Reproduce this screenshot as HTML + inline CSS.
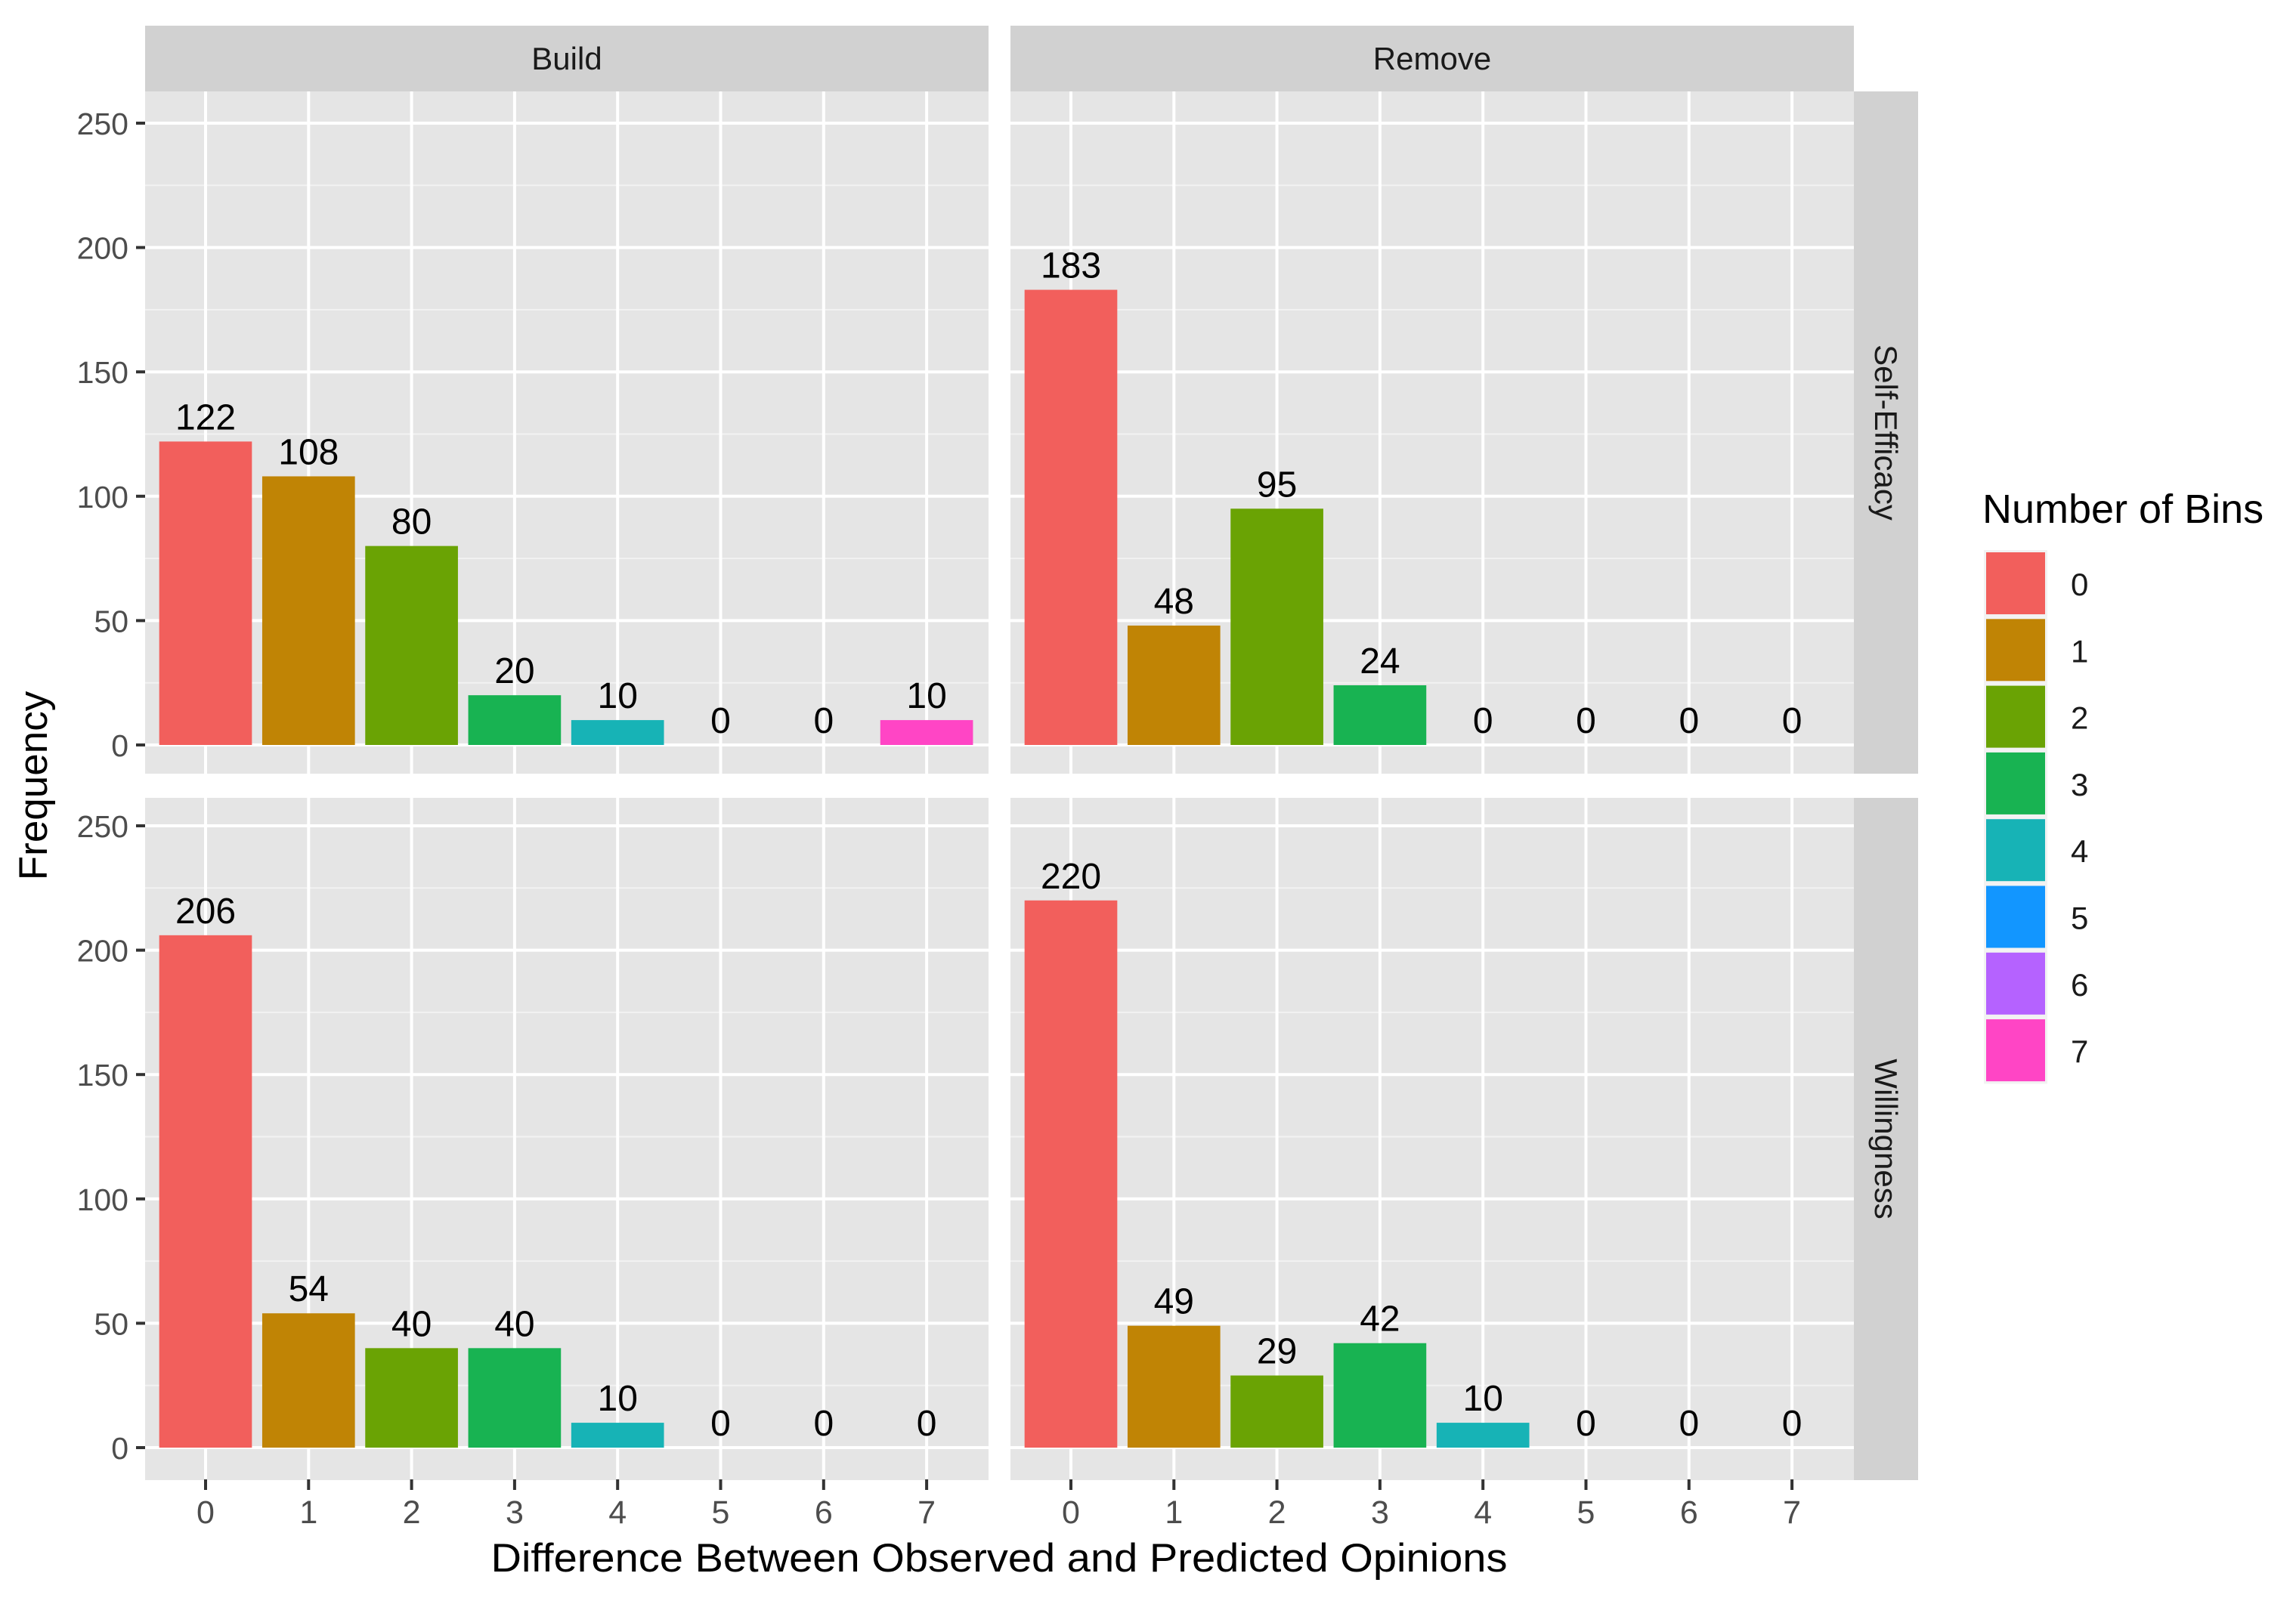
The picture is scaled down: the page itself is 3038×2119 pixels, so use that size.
<!DOCTYPE html>
<html><head><meta charset="utf-8"><style>
html,body{margin:0;padding:0;background:#fff;}
svg{display:block;font-family:"Liberation Sans",sans-serif;}
</style></head><body>
<svg id="chart" width="3038" height="2119" viewBox="0 0 3038 2119"></svg>
<script>
const categories = [0,1,2,3,4,5,6,7];
const colNames = ["Build","Remove"];
const rowNames = ["Self-Efficacy","Willingness"];
const buildSelfEfficacy = [122,108,80,20,10,0,0,10];
const removeSelfEfficacy = [183,48,95,24,0,0,0,0];
const buildWillingness = [206,54,40,40,10,0,0,0];
const removeWillingness = [220,49,29,42,10,0,0,0];
const yTicks = [0,50,100,150,200,250];
const legendLabels = ["0","1","2","3","4","5","6","7"];
const colors = ["#F25F5C","#C08405","#6AA304","#18B352","#17B3B6","#1296FF","#B562FF","#FF45C5"];

const NS="http://www.w3.org/2000/svg";
const svg=document.getElementById('chart');
function mk(tag,attrs,parent,text){const e=document.createElementNS(NS,tag);for(const k in attrs)e.setAttribute(k,attrs[k]);if(text!==undefined)e.textContent=text;(parent||svg).appendChild(e);return e;}

const panelX=[192,1337], panelW=1116;
const panelY=[121,1056], panelH=903;
const zeroY=[986,1916];
const pxPerUnit=3.292;
const xStep=136.3, xOff=80;
const data=[[buildSelfEfficacy,removeSelfEfficacy],[buildWillingness,removeWillingness]];
function xScale(c,i){return panelX[c]+xOff+i*xStep;}
function yScale(r,v){return zeroY[r]-v*pxPerUnit;}

for(let c=0;c<2;c++){
  const s=mk('rect',{x:panelX[c],y:34,width:panelW,height:87,fill:'#d1d1d1'});
  
  
  const t=mk('text',{x:panelX[c]+panelW/2,y:92,'text-anchor':'middle','font-size':42,fill:'#1a1a1a'},svg,colNames[c]);
  
  
}
for(let r=0;r<2;r++){
  const s=mk('rect',{x:2453,y:panelY[r],width:85,height:panelH,fill:'#d1d1d1'});
  
  
  const cy=panelY[r]+panelH/2;
  const t=mk('text',{x:2481,y:cy,'text-anchor':'middle','font-size':42,fill:'#1a1a1a',transform:`rotate(90 2481 ${cy})`},svg,rowNames[r]);
  
  
}

for(let r=0;r<2;r++){
  for(let c=0;c<2;c++){
    const g=mk('g',{});
    
    
    mk('rect',{x:panelX[c],y:panelY[r],width:panelW,height:panelH,fill:'#e5e5e5'},g);
    for(let k=0;k<yTicks.length;k++){
      const ym=yScale(r,yTicks[k]+25);
      if(ym>panelY[r]) mk('line',{x1:panelX[c],x2:panelX[c]+panelW,y1:ym,y2:ym,stroke:'#f2f2f2','stroke-width':2},g);
      const y=yScale(r,yTicks[k]);
      mk('line',{x1:panelX[c],x2:panelX[c]+panelW,y1:y,y2:y,stroke:'#fff','stroke-width':4},g);
    }
    for(let i=0;i<categories.length;i++){
      const x=xScale(c,i);
      mk('line',{x1:x,x2:x,y1:panelY[r],y2:panelY[r]+panelH,stroke:'#fff','stroke-width':4},g);
    }
    const vals=data[r][c];
    for(let i=0;i<categories.length;i++){
      const x=xScale(c,i), v=vals[i], w=xStep*0.9;
      if(v>0){
        const b=mk('rect',{x:x-w/2,y:yScale(r,v),width:w,height:v*pxPerUnit,fill:colors[i]},g);
        
        
      }
      const l=mk('text',{x:x,y:yScale(r,v)-16,'text-anchor':'middle','font-size':48,fill:'#000'},g,String(v));
      
      
    }
  }
  for(let k=0;k<yTicks.length;k++){
    const y=yScale(r,yTicks[k]);
    const tk=mk('line',{x1:180,x2:192,y1:y,y2:y,stroke:'#333','stroke-width':4});
    
    
    const tl=mk('text',{x:170,y:y+15,'text-anchor':'end','font-size':41,fill:'#4d4d4d'},svg,String(yTicks[k]));
    
    
  }
}
for(let c=0;c<2;c++){
  for(let i=0;i<categories.length;i++){
    const x=xScale(c,i);
    const tk=mk('line',{x1:x,x2:x,y1:1958,y2:1972,stroke:'#333','stroke-width':4});
    
    
    const tl=mk('text',{x:x,y:2016,'text-anchor':'middle','font-size':43,fill:'#4d4d4d'},svg,String(categories[i]));
    
    
  }
}
const xt=mk('text',{x:1322,y:2080,'text-anchor':'middle','font-size':53,fill:'#000',textLength:1345,lengthAdjust:'spacingAndGlyphs'},svg,'Difference Between Observed and Predicted Opinions');


const yt=mk('text',{x:62,y:1040,'text-anchor':'middle','font-size':53,fill:'#000',transform:'rotate(-90 62 1040)'},svg,'Frequency');



const lg=mk('g',{});


const lt=mk('text',{x:2623,y:692,'font-size':54,fill:'#000'},lg,'Number of Bins');


for(let i=0;i<legendLabels.length;i++){
  const y=728+i*88.3;
  const e=mk('g',{},lg);
  
  
  mk('rect',{x:2625,y:y,width:84,height:88.3,fill:'#f2f2f2'},e);
  mk('rect',{x:2628,y:y+3,width:78,height:82,fill:colors[i]},e);
  mk('text',{x:2740,y:y+60,'font-size':42,fill:'#1a1a1a'},e,legendLabels[i]);
}
</script>
</body></html>
